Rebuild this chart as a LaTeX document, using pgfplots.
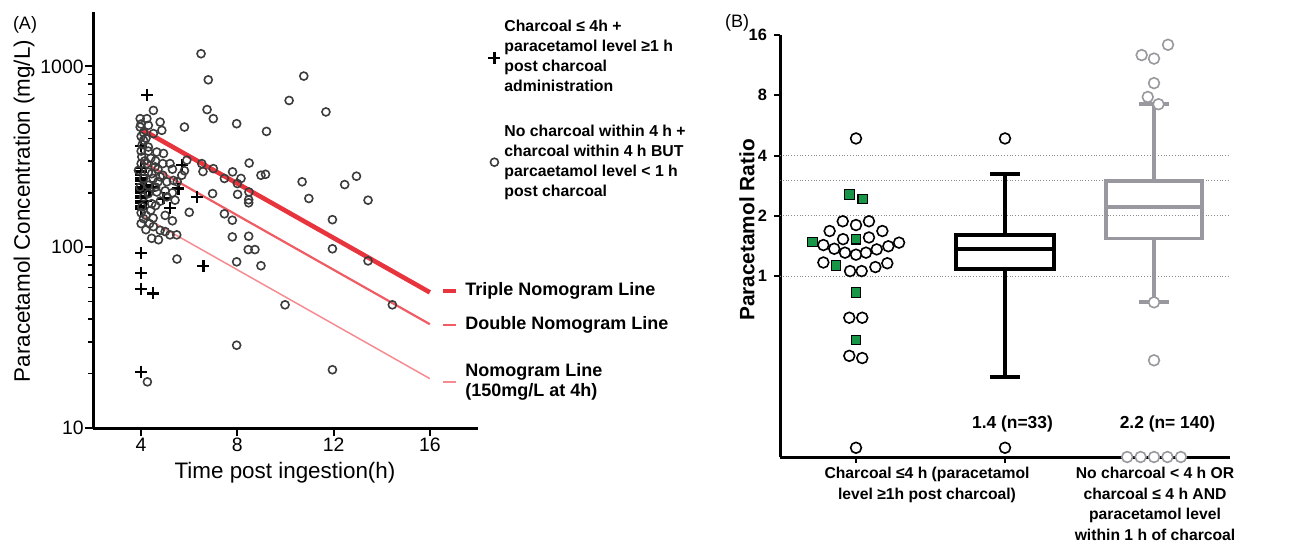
\documentclass[border=0pt]{standalone}
\usepackage{pgfplots}
\pgfplotsset{compat=1.18}
\usepgfplotslibrary{statistics}
\usepackage{fontspec}
\setmainfont{Liberation Sans}
\definecolor{tripleRed}{RGB}{232,52,60}
\definecolor{doubleRed}{RGB}{240,92,100}
\definecolor{nomoRed}{RGB}{246,140,146}
\definecolor{circA}{RGB}{60,60,60}
\definecolor{greenSq}{RGB}{24,150,72}
\definecolor{boxGray}{RGB}{152,152,158}

\begin{document}
\begin{tikzpicture}[x=0.5pt,y=0.5pt]
\useasboundingbox (0,0) rectangle (1293,547);

% ---------------- Panel A ----------------
\begin{axis}[
  at={(46.5pt,59.5pt)}, anchor=south west,
  scale only axis, width=192.5pt, height=208pt,
  xmin=2, xmax=18, ymin=10, ymax=2000, ymode=log,
  axis x line*=bottom, axis y line*=left,
  axis line style={line width=1.5pt,-},
  xtick={4,8,12,16}, xticklabels={4,8,12,16},
  ytick={10,100,1000}, yticklabels={10,100,1000},
  yminorticks=true,
  minor ytick={20,30,40,50,60,70,80,90,200,300,400,500,600,700,800,900},
  tick align=outside,
  major tick length=4pt, minor tick length=2.5pt,
  tick style={line width=1pt, black},
  minor tick style={line width=0.8pt, black},
  tick label style={font=\fontsize{9.7}{11}\selectfont},
  yticklabel style={inner xsep=0.5pt},
  xticklabel style={inner ysep=1pt},
  clip=false,
  legend style={at={(1.026,0.99)}, anchor=north west, draw=none, fill=none,
    inner sep=0pt, row sep=11pt,
    font=\bfseries\fontsize{7.9}{10}\selectfont,
    cells={anchor=west, align=left}},
]
\addplot[only marks, mark=+, mark size=3pt, mark options={line width=1.1pt, black}] coordinates {
(4.25,692) (4.0,363)
(4.0,275) (4.0,262) (4.0,250) (4.0,240) (4.0,232) (4.0,224) (4.0,214) (4.0,206)
(4.0,199) (4.0,192) (4.0,187) (4.0,180) (4.0,175) (4.0,168) (4.0,162)
(4.2,220) (4.35,205) (4.5,215) (4.2,180)
(4.93,186) (5.2,164) (5.55,211) (5.69,284) (6.31,190) (6.59,79)
(4.0,93) (4.0,72) (4.0,59) (4.5,55.5) (4.0,20.5)
};
\addlegendentry{Charcoal ≤ 4h +\\paracetamol level ≥1 h\\post charcoal\\administration}
\addplot[only marks, mark=o, mark size=2pt, mark options={line width=0.8pt, circA}] coordinates {
(6.49,1175) (6.79,843) (6.74,577) (7.0,514) (7.97,482) (9.21,437) (5.80,462)
(10.15,648) (10.76,884) (11.68,560) (8.49,292) (7.80,261) (8.15,240) (7.46,240)
(8.0,225) (8.98,250) (9.17,253) (10.69,230) (10.97,186) (12.46,222) (12.95,247)
(13.43,182) (11.95,142) (11.95,98) (13.43,84) (6.97,198) (8.01,196) (8.47,183)
(8.47,176) (7.46,153) (7.79,141) (7.79,114) (8.47,115) (8.45,97) (8.73,97)
(7.97,83) (8.98,79) (5.49,86) (6.0,156) (6.57,262) (7.0,272) (5.90,303) (6.52,290)
(8.48,202) (9.98,48) (14.44,48) (7.97,28.7) (11.95,21) (4.26,18)
(4.51,571) (3.96,514) (4.24,514) (4.79,492) (3.96,462) (4.30,472) (4.86,443)
(4.51,425) (4.10,390) (4.30,358) (4.65,336) (4.93,330) (4.03,316) (4.24,290)
(4.58,278) (5.20,290) (3.89,266) (4.44,255) (4.79,245) (5.07,230) (5.34,234)
(5.69,250) (3.96,215) (4.30,198) (4.65,202) (5.07,190) (5.41,182) (4.03,167)
(4.44,174) (4.10,144) (4.51,130) (4.79,124) (5.0,122) (5.20,117) (5.48,117)
(4.44,112) (4.72,110)
(4.0,480) (4.1,430) (4.0,410) (4.2,400) (4.05,370) (4.3,340) (4.0,340) (4.15,300)
(4.4,310) (4.0,290) (4.3,260) (4.6,300) (4.1,240) (4.5,240) (4.7,270) (4.0,155)
(4.2,150) (4.4,160) (4.6,170) (4.8,180) (4.3,220) (4.6,215) (4.9,250) (5.0,205)
(4.2,125) (4.35,135) (4.0,135) (4.5,145) (5.3,140) (5.0,150) (4.9,290) (5.3,270)
(5.5,230) (5.8,265) (5.3,200) (4.1,190) (4.7,230)
};
\addlegendentry{No charcoal within 4 h +\\charcoal within 4 h BUT\\parcaetamol level < 1 h\\post charcoal}
\addplot[forget plot, nomoRed, line width=0.75pt] coordinates {(4,150) (16,18.75)};
\addplot[forget plot, doubleRed, line width=1.1pt] coordinates {(4,300) (16,37.5)};
\addplot[forget plot, tripleRed, line width=2.3pt] coordinates {(4,450) (16,56.25)};
\end{axis}

% nomogram line labels
\node[anchor=west, inner sep=0pt] at (443,256) {\textcolor{tripleRed}{\rule{6.5pt}{2.3pt}}};
\node[anchor=west, inner sep=0pt] at (443,222) {\textcolor{doubleRed}{\rule{6.5pt}{1.1pt}}};
\node[anchor=west, inner sep=0pt] at (443,165) {\textcolor{nomoRed}{\rule{6.5pt}{0.75pt}}};
\node[anchor=west, inner sep=0pt, font=\bfseries\fontsize{9}{10}\selectfont] at (465,256) {Triple Nomogram Line};
\node[anchor=west, inner sep=0pt, font=\bfseries\fontsize{9}{10}\selectfont] at (465,222) {Double Nomogram Line};
\node[anchor=west, inner sep=0pt, align=left, font=\bfseries\fontsize{9}{10}\selectfont] at (465,165) {Nomogram Line\\(150mg/L at 4h)};

\node[font=\fontsize{11.2}{13}\selectfont] at (285,74) {Time post ingestion(h)};
\node[rotate=90, font=\fontsize{11.2}{13}\selectfont] at (24,336) {Paracetamol Concentration (mg/L)};
\node[font=\fontsize{9}{10}\selectfont] at (25,522) {(A)};

% ---------------- Panel B ----------------
\begin{axis}[
  at={(390pt,45pt)}, anchor=south west,
  scale only axis, width=225pt, height=211pt,
  xmin=0.49, xmax=3.51, ymin=0.125, ymax=16, ymode=log, log basis y=2,
  axis x line*=bottom, axis y line*=left,
  axis line style={line width=1.5pt,-},
  xtick={1,2,3}, xticklabels={},
  ytick={1,2,4,8,16}, yticklabels={1,2,4,8,16},
  yminorticks=false,
  extra y ticks={1,2,3,4}, extra y tick labels={},
  extra y tick style={grid=major, major tick length=0pt},
  major grid style={densely dotted, black!45, line width=0.6pt},
  tick align=outside, major tick length=3pt,
  tick style={line width=1pt, black},
  tick label style={font=\bfseries\fontsize{8.2}{10}\selectfont},
  clip=false,
]
\addplot[boxplot prepared={draw direction=y, draw position=2, lower whisker=0.314, lower quartile=1.09,
  median=1.36, upper quartile=1.60, upper whisker=3.24, box extend=0.655, whisker extend=0.207},
  draw=black, line width=2pt, solid] coordinates {};
\addplot[boxplot prepared={draw direction=y, draw position=3, lower whisker=0.744, lower quartile=1.54,
  median=2.22, upper quartile=2.98, upper whisker=7.22, box extend=0.642, whisker extend=0.2},
  draw=boxGray, line width=1.75pt, solid] coordinates {};
% column 1 individual values
\addplot[only marks, mark=*, mark size=2.7pt, mark options={line width=0.8pt, draw=black, fill=white}] coordinates {
(1.00,4.87)
(0.911,1.88) (1.087,1.88) (1.00,1.80)
(0.823,1.68) (1.177,1.68)
(0.913,1.53) (1.087,1.56)
(0.781,1.43) (0.854,1.37) (0.926,1.31) (1.00,1.28) (1.067,1.31) (1.139,1.36) (1.217,1.41) (1.289,1.47)
(0.781,1.17) (0.960,1.06) (1.038,1.06) (1.130,1.11) (1.210,1.16)
(0.955,0.62) (1.042,0.62)
(0.955,0.40) (1.042,0.39)
(1.00,0.139)
};
\addplot[only marks, mark=square*, mark size=2.4pt, mark options={line width=0.6pt, draw=black, fill=greenSq}] coordinates {
(0.955,2.56) (1.045,2.43) (1.00,1.53) (0.709,1.48) (0.866,1.13) (1.00,0.83) (1.00,0.48)
};
% outliers column 2
\addplot[only marks, mark=*, mark size=2.7pt, mark options={line width=0.8pt, draw=black, fill=white}] coordinates {
(2,4.87) (2,0.139)
};
% outliers column 3
\addplot[only marks, mark=*, mark size=2.7pt, mark options={line width=0.8pt, draw=boxGray, fill=white}] coordinates {
(2.917,12.7) (3.0,12.2) (3.094,14.3) (3.0,9.2) (2.958,7.85) (3.03,7.22) (3.0,0.74) (3.0,0.38)
(2.82,0.125) (2.91,0.125) (3.0,0.125) (3.09,0.125) (3.18,0.125)
};
\node[font=\bfseries\fontsize{8.7}{10}\selectfont] at (axis cs:2.05,0.183) {1.4 (n=33)};
\node[font=\bfseries\fontsize{8.7}{10}\selectfont] at (axis cs:3.09,0.183) {2.2 (n= 140)};
\end{axis}

\node[anchor=north, align=center, inner sep=0pt, font=\bfseries\fontsize{7.85}{10.25}\selectfont] at (927,80) {Charcoal ≤4 h (paracetamol\\level ≥1h post charcoal)};
\node[anchor=north, align=center, inner sep=0pt, font=\bfseries\fontsize{7.85}{10.25}\selectfont] at (1155,80) {No charcoal < 4 h OR\\charcoal ≤ 4 h AND\\paracetamol level\\within 1 h of charcoal};
\node[rotate=90, font=\bfseries\fontsize{10.4}{12}\selectfont] at (747,317) {Paracetamol Ratio};
\node[font=\fontsize{9}{10}\selectfont] at (737,524) {(B)};
\end{tikzpicture}
\end{document}
